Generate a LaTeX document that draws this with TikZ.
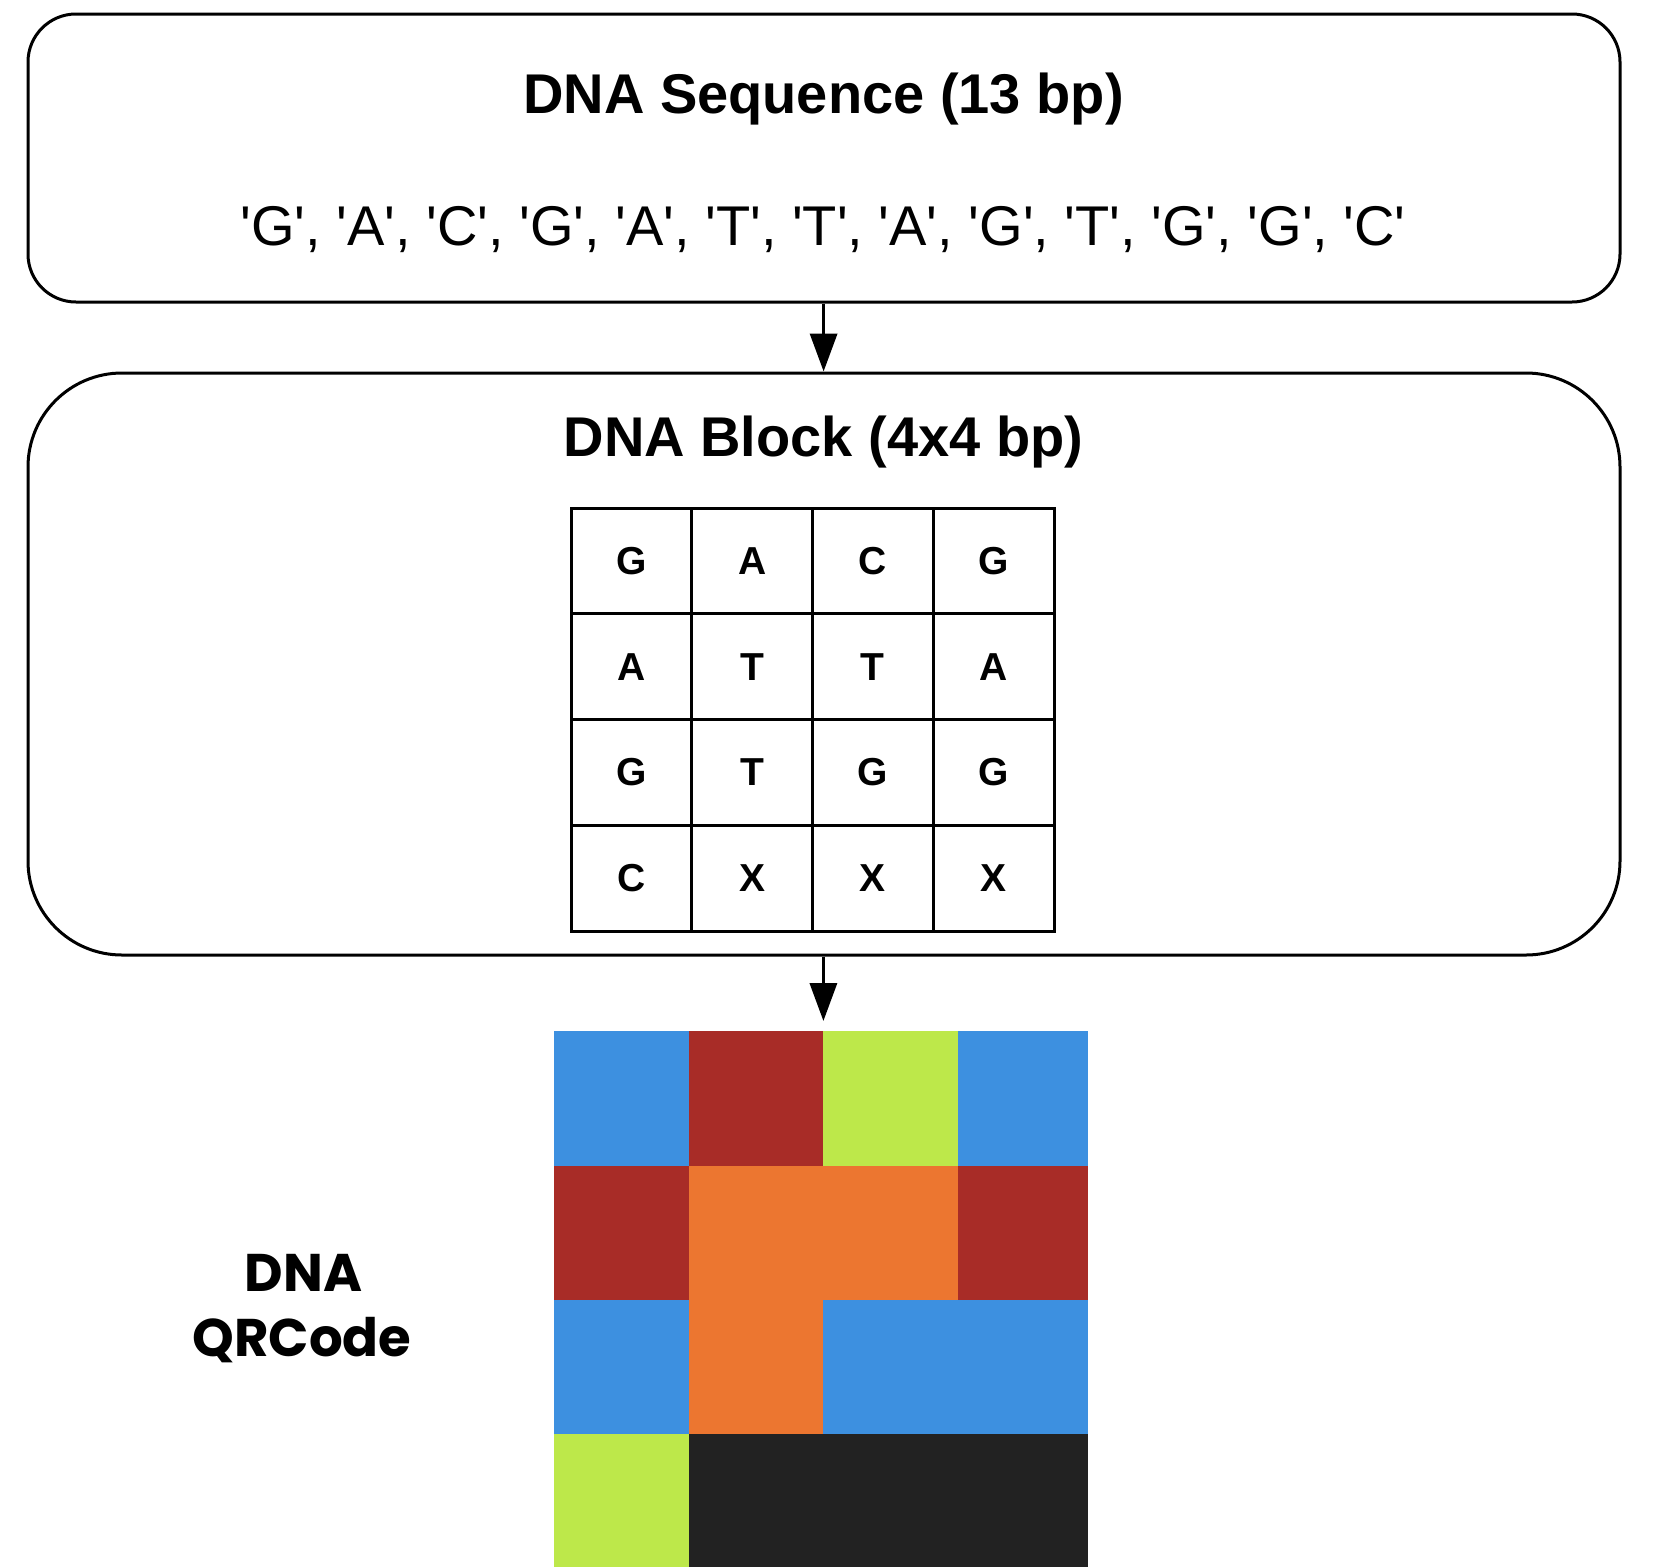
\documentclass[tikz,border=0pt]{standalone}
\usepackage{fontspec}
\setmainfont{Liberation Sans}
\newfontfamily\popfont{Poppins}
\usetikzlibrary{arrows.meta}
\definecolor{qblue}{RGB}{61,144,224}
\definecolor{qred}{RGB}{168,44,39}
\definecolor{qlime}{RGB}{189,232,74}
\definecolor{qorange}{RGB}{236,118,48}
\definecolor{qblack}{RGB}{34,34,34}
\newcommand{\sq}[1]{\textquotesingle#1\textquotesingle}
\tikzset{
  panel/.style={draw=black, line width=3pt, minimum width=1592pt, inner sep=0pt},
  titletext/.style={font=\fontsize{56}{67}\selectfont\bfseries, inner sep=0pt, anchor=base},
  seqtext/.style={font=\fontsize{56}{67}\selectfont, inner sep=0pt, anchor=base},
  cell/.style={draw=black, line width=3pt, minimum width=120.75pt, minimum height=105.75pt, inner sep=0pt, font=\fontsize{39}{47}\selectfont\bfseries},
  flowarrow/.style={draw=black, line width=3.5pt, -{Triangle[width=27pt,length=38pt]}},
  qrlabel/.style={font=\popfont\fontsize{53}{65}\selectfont\bfseries, inner sep=0pt, anchor=base}
}
\begin{document}
\begin{tikzpicture}[x=1pt,y=-1pt]
\useasboundingbox (0,0) rectangle (1656,1566);
% panels
\node[panel, minimum height=288pt, rounded corners=48pt] (seqbox) at (824,158) {};
\node[panel, minimum height=582pt, rounded corners=94pt] (blockbox) at (824,664) {};
% texts
\node[titletext] (seqtitle) at (823.5,113) {DNA Sequence (13 bp)};
\node[seqtext] (seq) at (823,245) {\sq{G}, \sq{A}, \sq{C}, \sq{G}, \sq{A}, \sq{T}, \sq{T}, \sq{A}, \sq{G}, \sq{T}, \sq{G}, \sq{G}, \sq{C}};
\node[titletext] (blocktitle) at (823.5,456) {DNA Block (4x4 bp)};
% table
\foreach \row/\letters [count=\r from 0] in {0/{G,A,C,G},1/{A,T,T,A},2/{G,T,G,G},3/{C,X,X,X}} {
  \foreach \L [count=\c from 0] in \letters {
    \node[cell] (t\r\c) at ({571+120.75*(\c+0.5)},{508+105.75*(\r+0.5)}) {\L};
  }
}
% QR code
\node[minimum width=534.5pt, minimum height=535pt, inner sep=0pt] (qr) at (820.75,1298.5) {};
\def\qrcol#1{\ifcase#1 553.5\or 688.5\or 822.5\or 958\or 1088\fi}
\def\qrrow#1{\ifcase#1 1031\or 1166\or 1300\or 1434\or 1568\fi}
\foreach \colname [count=\k from 0] in {qblue,qred,qlime,qblue,
                                        qred,qorange,qorange,qred,
                                        qblue,qorange,qblue,qblue,
                                        qlime,qblack,qblack,qblack} {
  \pgfmathtruncatemacro{\rr}{int(\k/4)}
  \pgfmathtruncatemacro{\cc}{mod(\k,4)}
  \pgfmathtruncatemacro{\rrn}{\rr+1}
  \pgfmathtruncatemacro{\ccn}{\cc+1}
  \fill[\colname] (\qrcol{\cc},\qrrow{\rr}) rectangle (\qrcol{\ccn}+0.3,\qrrow{\rrn}+0.3);
}
% label
\node[qrlabel] (lbl1) at (303.5,1291) {DNA};
\node[qrlabel] (lbl2) at (302,1356) {QRCode};
% arrows
\coordinate (a1s) at (823.6,302);
\coordinate (a1e) at (823.6,371);
\coordinate (a2s) at (823.4,955);
\coordinate (a2e) at (823.4,1021);
\draw[flowarrow] (seqbox.south -| a1s) -- (blockbox.north -| a1e);
\draw[flowarrow] (blockbox.south -| a2s) -- (a2e);
\end{tikzpicture}
\end{document}
